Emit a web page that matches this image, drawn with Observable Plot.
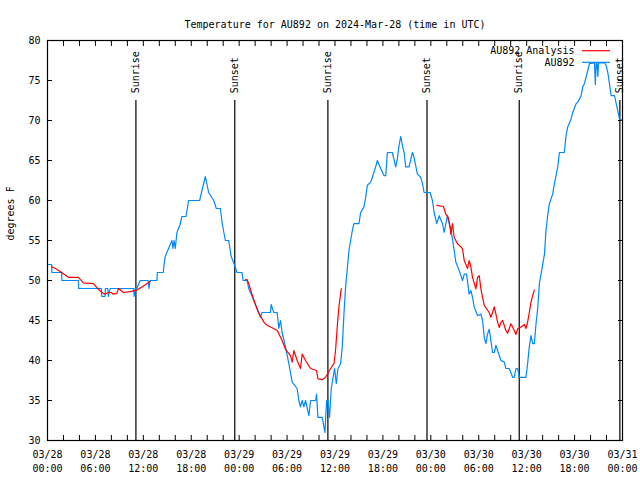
<!DOCTYPE html>
<html><head><meta charset="utf-8">
<script src="https://cdn.jsdelivr.net/npm/d3@7"></script>
<script src="https://cdn.jsdelivr.net/npm/@observablehq/plot@0.6"></script>
<style>body{margin:0;background:#fff}</style>
</head><body><div id="chart"></div>
<script>
const startUTC = Date.UTC(2024, 2, 28);
const title = "Temperature for AU892 on 2024-Mar-28 (time in UTC)";
const yLabel = "degrees F";
const yTicks = [30, 35, 40, 45, 50, 55, 60, 65, 70, 75, 80];
const xLabelHours = [0, 6, 12, 18, 24, 30, 36, 42, 48, 54, 60, 66, 72];
const xMinorHours = d3.range(0, 73, 2);
const eventHours = [11.07, 23.45, 35.11, 47.52, 59.07, 71.67];
const eventLabels = ["Sunrise", "Sunset", "Sunrise", "Sunset", "Sunrise", "Sunset"];
const seriesNames = ["AU892 Analysis", "AU892"];
const seriesColors = ["#ff0000", "#0088ff"];

// [hours since 03/28 00:00 UTC, degrees F]
const observed = [[0,52],[0.52,52],[0.55,51],[1.78,51],[1.8,50],[3.87,50],[3.9,49],[6.75,49],[6.8,48],[7.2,48],[7.25,49],[7.55,49],[7.63,48],[7.84,49],[10.8,49],[10.85,48],[11.0,49],[11.19,49],[11.6,50],[12.6,50],[12.7,49],[12.85,50],[13.7,50],[13.75,51],[14.5,51],[14.6,52],[14.74,53],[15.16,54],[15.58,55],[15.7,54],[15.85,55],[16.0,54],[16.21,56],[16.6,57],[16.83,58],[17.34,58],[17.67,60],[19.05,60],[19.4,61.5],[19.76,63],[20.18,61],[20.5,60.5],[20.81,60],[21.14,59],[21.64,59],[21.9,57],[22.27,55],[22.69,55],[23.0,53],[23.4,52],[23.73,51],[24.36,51],[24.49,50],[24.99,50],[25.2,49],[25.62,48],[26.04,47],[26.45,46],[26.66,45.4],[26.87,46],[27.92,46],[28.0,47],[28.34,46],[28.76,46],[28.96,44],[29.17,45],[29.38,43.5],[29.8,41.7],[30.22,39.6],[30.64,37.3],[31.26,36.5],[31.47,35],[31.68,34.2],[31.89,35],[32.1,34.2],[32.31,35],[32.73,33.1],[32.94,35],[33.57,35],[33.69,35.8],[33.86,32.9],[34.4,32.9],[34.74,31],[34.95,35],[35.11,35],[35.32,32.9],[35.53,36.5],[35.95,39],[36.16,37.1],[36.37,39],[36.7,39.6],[36.91,41.7],[37.12,45.8],[37.33,49.2],[37.54,51.5],[37.75,53.75],[37.96,55],[38.17,56.25],[38.37,57.1],[39.0,57.1],[39.21,58.5],[39.63,59.2],[39.84,60.4],[40.05,61.9],[40.47,62.3],[40.68,62.9],[41.09,64.2],[41.3,65],[41.72,64],[42.14,63.1],[42.35,63.1],[42.56,66],[43.18,66],[43.6,64.2],[43.81,65.2],[44.02,66.9],[44.23,68],[44.44,66.9],[44.65,66],[44.86,64.2],[45.28,64.2],[45.69,66],[45.9,65.4],[46.32,63.3],[46.74,62.9],[46.95,62.1],[47.16,61],[47.91,61],[48.2,60],[48.41,58.5],[48.75,57.1],[49.04,58.1],[49.46,57.1],[49.67,56],[49.88,57.1],[50.09,58.1],[50.3,57.1],[50.5,56.25],[50.71,55.2],[50.92,53.75],[51.13,52.3],[51.55,51.25],[51.97,50],[52.18,50.8],[52.47,50.8],[52.8,48.3],[53.01,48.75],[53.22,47.9],[53.43,46.7],[53.85,45.6],[54.27,45.8],[54.48,45],[54.69,42.9],[54.9,42.1],[55.1,43.3],[55.31,43.9],[55.52,42.5],[55.73,41],[55.94,41],[56.15,41.9],[56.36,41.25],[56.78,40],[57.2,39.8],[57.4,39],[57.82,39],[58.24,37.9],[58.45,37.9],[58.66,39],[58.87,39],[59.08,37.9],[59.91,37.9],[60.12,39.6],[60.33,41.7],[60.54,43.1],[60.75,42.1],[60.96,42.1],[61.17,44.6],[61.38,46.5],[61.59,49.6],[61.8,50.8],[62.23,53.3],[62.42,56.25],[62.63,58.1],[62.84,59.6],[63.26,60.8],[63.47,62.1],[63.68,63.1],[63.89,64.2],[64.1,66],[64.72,66],[64.93,68.1],[65.14,69.2],[65.56,70.2],[65.77,71],[66.19,72.1],[66.4,72.3],[66.82,73.1],[67.02,74.2],[67.23,74.6],[67.65,76.25],[67.86,77.1],[68.49,77.2],[68.6,74.5],[68.7,77.2],[68.8,77.2],[68.91,75.5],[69.0,77.2],[69.74,77.2],[69.95,76.9],[70.16,76],[70.58,73.1],[71.0,73.1],[71.21,72.1],[71.63,70.2],[72.0,70.0]];

const analysisNight1 = [[0.52,51.7],[1.0,51.5],[1.78,51],[2.61,50.4],[3.87,50.4],[4.5,49.7],[5.75,49.6],[6.38,48.9],[6.8,48.5],[7.21,48.3],[7.63,48.5],[8.0,48.5],[8.2,48.3],[8.68,48.4],[8.89,49],[9.52,48.5],[10.35,48.6],[11.19,48.8],[11.82,49.2],[12.44,49.6],[12.86,49.9]];
const analysisNight2 = [[24.78,50.1],[25.0,50.1],[25.2,49.6],[25.6,48.3],[26.0,47.1],[26.4,46.0],[26.87,45.2],[27.1,44.8],[27.5,44.4],[28.13,44.1],[28.76,43.75],[29.38,42.5],[29.8,41.4],[30.43,40.6],[30.64,39.8],[30.85,41.25],[31.26,40],[31.68,39],[31.89,40.8],[32.31,40],[32.94,39],[33.69,38.75],[33.86,37.7],[34.4,37.6],[34.82,37.9],[35.45,39],[35.87,39.6],[36.07,41.25],[36.28,44.2],[36.49,46.7],[36.79,49]];
const analysisNight3 = [[48.75,59.4],[49.58,59.25],[49.88,58.3],[50.17,57.9],[50.42,56.7],[50.5,55.8],[50.71,57.1],[50.92,55.4],[51.34,54.6],[51.76,54.2],[51.97,53.96],[52.18,52.5],[52.6,51.5],[52.8,52.5],[53.01,51.7],[53.22,50.4],[53.64,48.96],[53.85,50.4],[54.06,50.6],[54.27,48.96],[54.48,47.9],[54.69,46.9],[55.31,46.0],[55.52,45.4],[55.73,46.0],[55.94,46.7],[56.15,45.8],[56.36,44.8],[56.57,44.1],[56.78,44.8],[56.99,45.0],[57.4,43.75],[57.61,43.4],[58.03,44.6],[58.45,43.75],[58.66,43.25],[58.87,43.96],[59.29,44.2],[59.71,44.5],[59.91,44.0],[60.12,44.8],[60.33,46.0],[60.54,47.3],[60.75,48.1],[60.96,48.8]];

const toDate = h => new Date(startUTC + h * 3600e3);
const fmtDay = d3.utcFormat("%m/%d"), fmtTime = d3.utcFormat("%H:%M");
const events = eventHours.map((h, i) => ({time: toDate(h), label: eventLabels[i]}));
const asRows = arr => arr.map(([h, t]) => ({time: toDate(h), temp: t}));
const FONT = "'DejaVu Sans Mono', monospace";

const legend = (index, scales, values, dims) => {
  const g = d3.create("svg:g").attr("font-family", FONT).attr("font-size", 10);
  const xr = dims.width - dims.marginRight;
  seriesNames.forEach((name, i) => {
    const y = dims.marginTop + 10.7 + i * 11.6;
    g.append("text").attr("x", xr - 47.5).attr("y", y).attr("dy", "0.32em")
      .attr("text-anchor", "end").attr("fill", "black").text(name);
    g.append("line").attr("x1", xr - 40).attr("x2", xr - 12).attr("y1", y).attr("y2", y)
      .attr("stroke", seriesColors[i]).attr("stroke-width", 1.2);
  });
  return g.node();
};

const blank = () => "";
const plot = Plot.plot({
  width: 640, height: 480,
  marginLeft: 47, marginRight: 18, marginTop: 40, marginBottom: 40,
  style: {fontFamily: FONT, fontSize: "10px", background: "white", color: "black"},
  x: {type: "utc", domain: [toDate(0), toDate(72)]},
  y: {domain: [30, 80]},
  marks: [
    Plot.axisY({ticks: yTicks, tickSize: 0, tickPadding: 7, label: null}),
    Plot.axisY({ticks: yTicks, tickSize: -5, tickFormat: blank, label: null}),
    Plot.axisY({anchor: "right", ticks: yTicks, tickSize: -5, tickFormat: blank, label: null}),
    Plot.axisX({ticks: xLabelHours.map(toDate), tickSize: 0, tickPadding: 8, lineHeight: 1.4,
      tickFormat: d => fmtDay(d) + "\n" + fmtTime(d), label: null}),
    Plot.axisX({ticks: xMinorHours.map(toDate), tickSize: -5, tickFormat: blank, label: null}),
    Plot.axisX({anchor: "top", ticks: xMinorHours.map(toDate), tickSize: -5, tickFormat: blank, label: null}),
    Plot.ruleX(events, {x: "time", y1: 30, y2: 72.5, stroke: "black", strokeWidth: 1.2}),
    Plot.text(events, {x: "time", y: 73.4, text: "label", rotate: -90, textAnchor: "start", fill: "black"}),
    Plot.line(asRows(observed), {x: "time", y: "temp", stroke: seriesColors[1], strokeWidth: 1.2}),
    Plot.line(asRows(analysisNight1), {x: "time", y: "temp", stroke: seriesColors[0], strokeWidth: 1.2}),
    Plot.line(asRows(analysisNight2), {x: "time", y: "temp", stroke: seriesColors[0], strokeWidth: 1.2}),
    Plot.line(asRows(analysisNight3), {x: "time", y: "temp", stroke: seriesColors[0], strokeWidth: 1.2}),
    Plot.frame({stroke: "black", strokeWidth: 1.2}),
    Plot.text([title], {frameAnchor: "top", dy: -20, text: d => d, fill: "black"}),
    Plot.text([yLabel], {frameAnchor: "left", dx: -37, rotate: -90, text: d => d, fill: "black"}),
    legend
  ]
});
document.getElementById("chart").append(plot);
</script>
</body></html>
